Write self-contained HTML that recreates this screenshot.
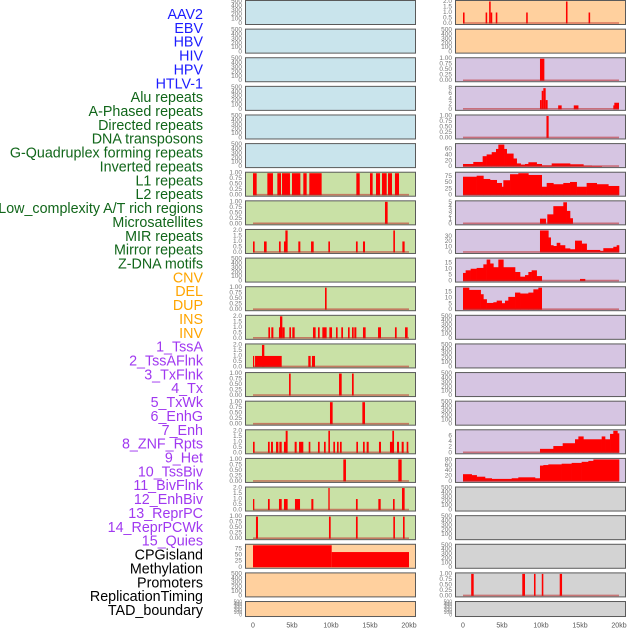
<!DOCTYPE html>
<html><head><meta charset="utf-8"><style>
html,body{margin:0;padding:0;background:#fff;}
svg{display:block;font-family:"Liberation Sans",sans-serif;}
</style></head><body>
<svg id="chart" width="630" height="630" viewBox="0 0 630 630" xmlns="http://www.w3.org/2000/svg"></svg>
<script>
// ---- track labels ----
const trackLabels=["AAV2","EBV","HBV","HIV","HPV","HTLV-1","Alu repeats","A-Phased repeats","Directed repeats","DNA transposons","G-Quadruplex forming repeats","Inverted repeats","L1 repeats","L2 repeats","Low_complexity A/T rich regions","Microsatellites","MIR repeats","Mirror repeats","Z-DNA motifs","CNV","DEL","DUP","INS","INV","1_TssA","2_TssAFlnk","3_TxFlnk","4_Tx","5_TxWk","6_EnhG","7_Enh","8_ZNF_Rpts","9_Het","10_TssBiv","11_BivFlnk","12_EnhBiv","13_ReprPC","14_ReprPCWk","15_Quies","CPGisland","Methylation","Promoters","ReplicationTiming","TAD_boundary"];
const labelGroups=[6,13,5,15,5];
const groupColors=["#1c1cff","#11661a","#ffa500","#a038f0","#000000"];
const xTickValues=[0,5,10,15,20];
const xTickLabels=["0","5kb","10kb","15kb","20kb"];

// ---- left column spike / bar data (kb) ----
const l6Starts=[0,1.84,3.12,3.72,5.0,6.45,7.22,13.25,15.0,15.77,16.54,17.31,18.2];
const l6Ends=[0.47,2.56,3.59,4.74,6.07,6.88,8.8,13.68,15.34,16.28,17.14,17.82,18.72];
const l6Values=[1,1,1,1,1,1,1,1,1,1,1,1,1];
const l7Starts=[16.92];const l7Ends=[17.26];const l7Values=[1];
const l8Starts=[0,1.41,3.33,3.97,4.15,5.81,7.44,9.66,13.2,14.1,17.99,19.15];
const l8Ends=[0.21,1.75,3.55,4.19,4.44,6.07,7.78,9.87,13.42,14.36,18.2,19.44];
const l8Values=[1,1,1,1,2,1,1,1,1,1,2,1];
const l10Starts=[9.23];const l10Ends=[9.44];const l10Values=[1];
const l11Starts=[1.97,2.35,3.33,3.46,3.76,4.66,5.04,7.69,8.33,8.89,9.79,10.64,11.32,12.18,12.69,12.99,14.1,16.03,18.2,19.49];
const l11Ends=[2.18,2.61,3.68,3.76,4.06,4.87,5.34,8.03,8.55,9.44,10.13,10.85,11.54,12.39,12.91,13.25,14.44,16.41,18.42,19.83];
const l11Values=[1,1,1,2,1,1,1,1,1,1,1,1,1,1,1,1,1,1,1,1];
const l12Starts=[0,0.26,1.15,7.09,7.56];const l12Ends=[0.13,3.68,1.45,7.39,7.95];const l12Values=[1,1,2,1,1];
const l13Starts=[4.62,11.03,12.69];const l13Ends=[4.83,11.37,12.91];const l13Values=[1,1,1];
const l14Starts=[9.87,14.02];const l14Ends=[10.21,14.36];const l14Values=[1,1];
const l15Starts=[0,1.92,2.31,2.95,3.38,3.97,4.19,5.34,5.9,7.14,8.33,9.1,9.66,10.3,10.77,11.15,13.25,14.1,14.57,16.15,17.56,17.86,18.46,19.06,19.7];
const l15Ends=[0.21,2.14,2.56,3.25,3.68,4.4,4.44,5.6,6.45,7.35,8.55,9.32,9.87,10.51,10.98,11.37,13.46,14.32,14.83,16.41,18.08,18.08,18.72,19.32,19.91];
const l15Values=[1,1,1,1,1,1,2,1,1,1,1,1,2,1,1,1,1,1,1,1,1,2,1,1,1];
const l16Starts=[11.58,18.63];const l16Ends=[11.92,19.06];const l16Values=[1,1];
const l17Starts=[0,1.92,3.33,3.97,5.38,7.48,9.66,13.2,16.07,17.95,19.1];
const l17Ends=[0.17,2.14,3.68,4.44,6.03,7.74,9.83,13.42,16.37,18.16,19.44];
const l17Values=[1,1,1,1,1,1,2,1,1,1,2];
const l18Starts=[0.38,9.74,13.2,17.99,19.23];const l18Ends=[0.64,9.96,13.42,18.2,19.44];const l18Values=[1,1,1,1,1];
const l19Starts=[0,10.09];const l19Ends=[10.09,20];const l19Values=[91,63];

// ---- right column data (kb) ----
const r0Starts=[0,2.9,3.35,3.55,4.2,8.1,13.2,16.1];const r0Ends=[0.2,3.1,3.55,3.75,4.4,8.3,13.4,16.3];const r0Values=[1,1,2,1,1,1,2,1];
const r2Starts=[9.87];const r2Ends=[10.43];const r2Values=[1];
const r3Starts=[9.87,10.09,10.3,10.6,12.2,14.2,19.27,19.4];const r3Ends=[10.09,10.3,10.6,10.85,12.65,14.8,19.4,20];const r3Values=[3.5,7,8,3.5,1.5,1.5,1.5,2.5];
const r4Starts=[10.7];const r4Ends=[10.98];const r4Values=[1];
const r5Edges=[0,1.32,2.52,3.03,3.68,4.23,4.53,5.26,5.6,6.45,6.88,7.39,7.95,8.38,9.44,10.09,11.37,13.72,15.43,16.5,17.78,20];
const r5Values=[9,16,36,42,50,61,76,61,45,28,11,7,9,15,9,4,11,8,3,2,0];
const r6Edges=[0,1.75,2.61,3.46,4.32,4.96,5.17,6.03,7.09,8.38,10.09,10.73,11.58,12.86,13.72,14.57,15.85,17.14,18.63,20];
const r6Values=[74,78,65,61,49,34,60,84,88,81,34,49,44,49,53,34,49,44,37];
const r7Edges=[9.87,10.6,10.81,11.58,12.86,13.29,13.72,14.06];
const r7Values=[1.2,0,2.2,4.1,5.0,3,1.3];
const r8Edges=[9.87,10.94,11.24,11.58,12.01,12.44,13.08,13.72,14.36,15.21,15.85,17.56,17.99,19.27,19.7,20];
const r8Values=[41,28,13.5,12,18,13.5,7.6,6,22,16.5,4.7,3,8,10.6,13.5];
const r9Edges=[0,0.34,0.98,1.75,2.61,3.03,3.46,3.89,4.53,5.17,6.67,7.31,7.95,8.38,8.8,9.44,10.09,15.0,15.64];
const r9Values=[6.8,9,10.3,11,14,18,14.7,11.6,18,11.6,7.6,3.7,5,7.6,9,4.2,0,1.8];
const r10Edges=[0,0.77,2.26,2.61,3.03,3.89,4.32,4.96,5.38,5.81,6.67,7.31,8.38,9.02,9.66,10.09];
const r10Values=[18.9,17,13.3,9,5.8,6.4,7.8,5.6,7.8,11,14.7,13.9,14.7,17.5,18.9];
const r15Edges=[9.87,11.58,12.78,14.36,14.79,15.43,17.78,18.21,18.85,19.27,19.79,20];
const r15Values=[1.4,2.4,3.4,4.8,5.8,4.8,5.8,4.8,6.7,7.8,6.9];
const r16Edges=[0,1.11,1.75,2.82,3.68,6.24,7.09,9.23,9.87,10.3,10.94,12.65,13.93,15.21,16.07,16.71,20];
const r16Values=[27,23.5,17.6,11.8,9.4,11.8,15.3,11.8,59,61,63.5,66,69,73,76.5,82];
const r20Starts=[1.05,7.6,9.1,10.1,12.4];const r20Ends=[1.37,7.95,9.3,10.3,12.7];const r20Values=[1,1,1,1,1];

// tick sets
const ticksEmpty=[0,100,200,300,400,500];
const ticks01=[0,0.25,0.5,0.75,1];
const ticks02=[0,0.5,1,1.5,2];

const BLUE="#c9e4ec",GREEN="#c9e1a6",ORANGE="#ffd09e",PURPLE="#d6c5e2",GRAY="#d3d3d3";
const E=null;
function bars(s,e,v,ymax,ticks,fmt){return {type:"bars",s:s,e:e,v:v,ymax:ymax,ticks:ticks,fmt:fmt,base:true};}
function steps(ed,v,ymax,ticks){return {type:"steps",ed:ed,v:v,ymax:ymax,ticks:ticks,fmt:0,base:true};}
const f2=2,f1=1;
const leftSpecs=[
 [BLUE,E],[BLUE,E],[BLUE,E],[BLUE,E],[BLUE,E],[BLUE,E],
 [GREEN,bars(l6Starts,l6Ends,l6Values,1,ticks01,f2)],
 [GREEN,bars(l7Starts,l7Ends,l7Values,1,ticks01,f2)],
 [GREEN,bars(l8Starts,l8Ends,l8Values,2,ticks02,f1)],
 [GREEN,E],
 [GREEN,bars(l10Starts,l10Ends,l10Values,1,ticks01,f2)],
 [GREEN,bars(l11Starts,l11Ends,l11Values,2,ticks02,f1)],
 [GREEN,bars(l12Starts,l12Ends,l12Values,2,ticks02,f1)],
 [GREEN,bars(l13Starts,l13Ends,l13Values,1,ticks01,f2)],
 [GREEN,bars(l14Starts,l14Ends,l14Values,1,ticks01,f2)],
 [GREEN,bars(l15Starts,l15Ends,l15Values,2,ticks02,f1)],
 [GREEN,bars(l16Starts,l16Ends,l16Values,1,ticks01,f2)],
 [GREEN,bars(l17Starts,l17Ends,l17Values,2,ticks02,f1)],
 [GREEN,bars(l18Starts,l18Ends,l18Values,1,ticks01,f2)],
 [ORANGE,Object.assign(bars(l19Starts,l19Ends,l19Values,91,[0,25,50,75],0),{base:false})],
 [ORANGE,E],[ORANGE,E]
];
const rightSpecs=[
 [ORANGE,bars(r0Starts,r0Ends,r0Values,2,ticks02,f1)],
 [ORANGE,E],
 [PURPLE,bars(r2Starts,r2Ends,r2Values,1,ticks01,f2)],
 [PURPLE,bars(r3Starts,r3Ends,r3Values,8.3,[0,2,4,6,8],0)],
 [PURPLE,bars(r4Starts,r4Ends,r4Values,1,ticks01,f2)],
 [PURPLE,steps(r5Edges,r5Values,76,[0,20,40,60])],
 [PURPLE,steps(r6Edges,r6Values,88,[0,25,50,75])],
 [PURPLE,steps(r7Edges,r7Values,5.1,[0,1,2,3,4,5])],
 [PURPLE,steps(r8Edges,r8Values,41,[0,10,20,30])],
 [PURPLE,steps(r9Edges,r9Values,18.4,[0,5,10,15])],
 [PURPLE,steps(r10Edges,r10Values,18.9,[0,5,10,15])],
 [PURPLE,E],[PURPLE,E],[PURPLE,E],[PURPLE,E],
 [PURPLE,steps(r15Edges,r15Values,7.8,[0,2,4,6])],
 [PURPLE,steps(r16Edges,r16Values,82,[0,20,40,60,80])],
 [GRAY,E],[GRAY,E],[GRAY,E],
 [GRAY,bars(r20Starts,r20Ends,r20Values,1,ticks01,f2)],
 [GRAY,E]
];

const NS="http://www.w3.org/2000/svg";
const svg=document.getElementById("chart");
function mk(tag,attrs,parent){const el=document.createElementNS(NS,tag);for(const k in attrs)el.setAttribute(k,attrs[k]);(parent||svg).appendChild(el);return el;}

// labels
let idx=0;
labelGroups.forEach((n,g)=>{for(let j=0;j<n;j++){
  const t=mk("text",{x:203,y:15+13.86*idx,"text-anchor":"end","dominant-baseline":"central","font-size":"14.3",fill:groupColors[g]});
  t.textContent=trackLabels[idx];
  
  
  idx++;}});

const cols=[{x0:245,x1:416,d0:253},{x0:455,x1:626,d0:463}];
const KB=7.8;
function rowTop(i){return 28.62*i;}
function rowH(i){return i===21?16:25;}

function drawPanel(col,i,fill,spec){
  const c=cols[col];const top=rowTop(i),h=rowH(i);
  const g=mk("g",{});
  
  
  const r=mk("rect",{x:c.x0+0.5,y:top+0.5,width:c.x1-c.x0-1,height:h-1,fill:fill,stroke:"#5a5a5a","stroke-width":1},g);
  
  
  const y0=top+h-1.5,y1=top+1.5;
  const ymax=spec?spec.ymax:500;
  const ys=v=>y0-(v/ymax)*(y0-y1);
  const xs=kb=>c.d0+kb*KB;
  const ticks=spec?spec.ticks:ticksEmpty;
  const fmt=spec?spec.fmt:0;
  ticks.forEach(tv=>{
    const t=mk("text",{x:c.x0-3,y:ys(tv),"text-anchor":"end","dominant-baseline":"central","font-size":h<20?"5":"6.5",fill:"#777"},g);
    t.textContent=tv.toFixed(fmt);
    
    
  });
  if(!spec)return;
  if(spec.type==="bars"){
    spec.s.forEach((s,k)=>{
      const x=xs(s),w=Math.max(1.2,xs(spec.e[k])-x);
      const b=mk("rect",{x:x,y:ys(spec.v[k]),width:w,height:y0-ys(spec.v[k]),fill:"#ff0000"},g);
      
      
    });
  }else{
    spec.v.forEach((v,k)=>{
      if(v<=0)return;
      const x=xs(spec.ed[k]),w=xs(spec.ed[k+1])-x;
      const b=mk("rect",{x:x,y:ys(v),width:w+0.3,height:y0-ys(v),fill:"#ff0000"},g);
      
      
    });
  }
  if(spec.base){
    const l=mk("line",{x1:xs(0),x2:xs(20),y1:y0-0.5,y2:y0-0.5,stroke:"rgba(190,40,40,0.55)","stroke-width":1.6},g);
    
    
  }
}
for(let i=0;i<22;i++){drawPanel(0,i,leftSpecs[i][0],leftSpecs[i][1]);drawPanel(1,i,rightSpecs[i][0],rightSpecs[i][1]);}

cols.forEach((c,ci)=>{xTickValues.forEach((v,k)=>{
  const t=mk("text",{x:c.d0+v*KB,y:626,"text-anchor":"middle","dominant-baseline":"central","font-size":"7",fill:"#555"});
  t.textContent=xTickLabels[k];
  
  
});});
</script>
</body></html>
